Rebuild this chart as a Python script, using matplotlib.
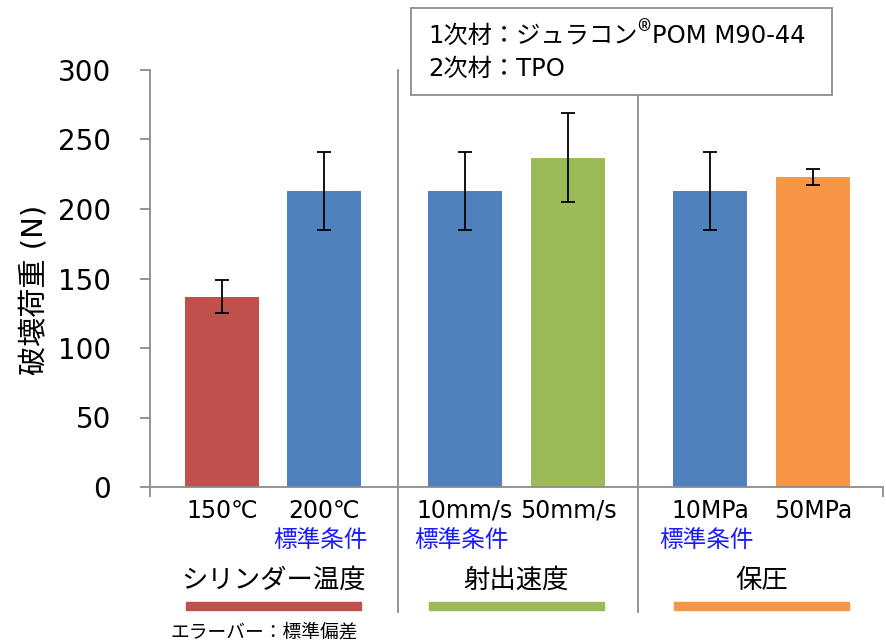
import matplotlib.pyplot as plt
from matplotlib.patches import Rectangle
from matplotlib.text import Annotation
from matplotlib.transforms import blended_transform_factory

plt.rcParams['font.family'] = ['DejaVu Sans', 'Noto Sans CJK JP']

# データ
categories = ["150℃", "200℃", "10mm/s", "50mm/s", "10MPa", "50MPa"]
values = [137, 213, 213, 237, 213, 223]
errors = [12, 28, 28, 32, 28, 6]
bar_colors = ["#C0504D", "#4F81BD", "#4F81BD", "#9BBB59", "#4F81BD", "#F79646"]
standard = [False, True, True, False, True, False]
groups = ["シリンダー温度", "射出速度", "保圧"]
group_colors = ["#C0504D", "#9BBB59", "#F79646"]
yticks = [0, 50, 100, 150, 200, 250, 300]

W, H = 886, 644
fig = plt.figure(figsize=(W / 100, H / 100), dpi=100)

def fx(px):
    return px / W

def fy(py):
    return 1 - py / H

ax = fig.add_axes([fx(150), fy(487), fx(733), (487 - 70) / H])

# バー位置 (1スロット = 約103px)
pos = [0.70, 1.69, 3.06, 4.06, 5.44, 6.44]
dividers = [2.41, 4.74]
xmax = 7.12

ax.bar(pos, values, width=0.72, color=bar_colors, zorder=2)
ax.errorbar(pos, values, yerr=errors, fmt="none", ecolor="black",
            elinewidth=1.3, capsize=5, capthick=1.3, zorder=3)

ax.set_xlim(0, xmax)
ax.set_ylim(0, 300)
ax.set_yticks(yticks)
ax.tick_params(axis="y", labelsize=20, length=7, color="#8c8c8c", width=1.3, pad=21)
ax.set_xticks([0, xmax])
ax.set_xticklabels([])
ax.tick_params(axis="x", length=7, color="#8c8c8c", width=1.3)
for s in ["top", "right"]:
    ax.spines[s].set_visible(False)
for s in ["left", "bottom"]:
    ax.spines[s].set_color("#8c8c8c")
    ax.spines[s].set_linewidth(1.3)

fig.text(fx(35), fy(290), "破壊荷重 (N)", rotation=90, ha="center", va="center",
         fontsize=21)

# 区切り線
tr = blended_transform_factory(ax.transData, fig.transFigure)
for d in dividers:
    ax.plot([d, d], [fy(70), fy(612)], color="#8c8c8c", lw=1.3,
            transform=tr, clip_on=False, zorder=1)

# カテゴリラベル
for p, c, st in zip(pos, categories, standard):
    ax.text(p, fy(511), c, transform=tr, ha="center", va="center", fontsize=17)
    if st:
        ax.text(p - 0.03, fy(540), "標準条件", transform=tr, ha="center", va="center",
                fontsize=17, color="#1a1aff")

# グループ名と色帯
group_centers = [(pos[0] + pos[1]) / 2, (pos[2] + pos[3]) / 2, (pos[4] + pos[5]) / 2]
for gc, g, col in zip(group_centers, groups, group_colors):
    ax.text(gc, fy(581), g, transform=tr, ha="center", va="center", fontsize=19)
    ax.add_patch(Rectangle((gc - 0.85, fy(610)), 1.7, 8 / H, transform=tr,
                           color=col, clip_on=False))

fig.text(fx(170), fy(632), "エラーバー：標準偏差", ha="left", va="center", fontsize=13.5)

# 材料ボックス
fig.patches.append(Rectangle((fx(411), fy(95)), fx(832 - 411), (95 - 8) / H,
                             transform=fig.transFigure, facecolor="white",
                             edgecolor="#8c8c8c", lw=1.3, zorder=5))
t1 = fig.text(fx(428), fy(36), "1次材：ジュラコン", fontsize=17.5,
              va="center", ha="left", zorder=6)
t2 = fig.add_artist(Annotation("®", xy=(1, 0), xycoords=t1, va="bottom", ha="left",
                               fontsize=20, family=["Noto Sans CJK JP"], zorder=6))
t3 = fig.add_artist(Annotation("POM M90-44", xy=(1, 0), xycoords=t1, va="bottom",
                               ha="left", fontsize=17.5, zorder=6,
                               xytext=(10.5, 0), textcoords="offset points"))
fig.text(fx(428), fy(69), "2次材：TPO", fontsize=17.5, va="center", ha="left", zorder=6)

fig.savefig("out.png", dpi=100)
